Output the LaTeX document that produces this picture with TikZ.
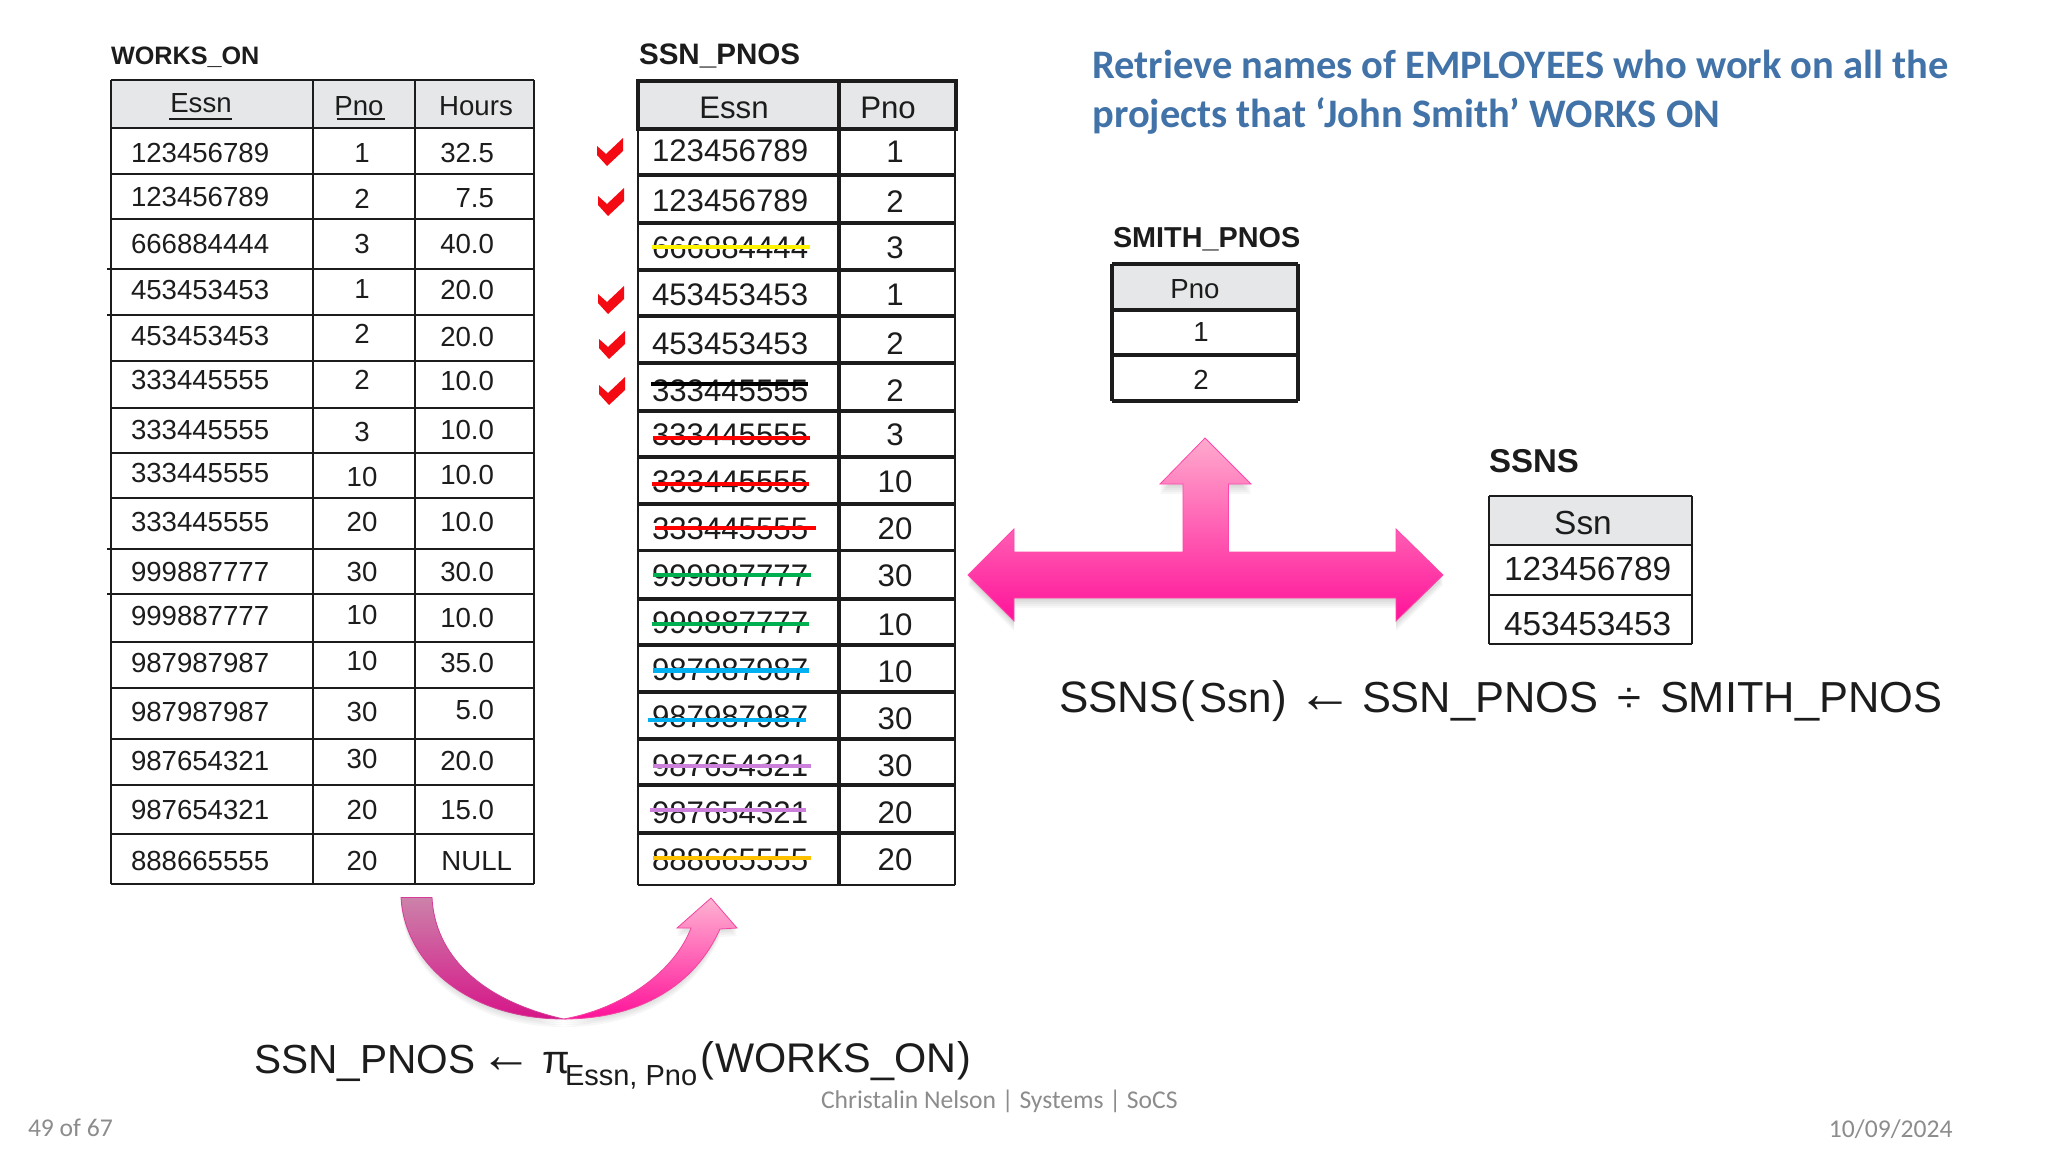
\documentclass[tikz,border=0pt]{standalone}
\usepackage{fontspec}
\setmainfont{Liberation Sans}
\newfontfamily\carlito{Carlito}
\newcommand\pxf[1]{\fontsize{#1}{#1}\selectfont}
\definecolor{ink}{HTML}{1C1C1C}
\definecolor{headgray}{HTML}{E6E7E8}
\definecolor{titleblue}{HTML}{4172A8}
\definecolor{footgray}{HTML}{8C8C8C}
\definecolor{chkred}{HTML}{F40A12}
\definecolor{cgreen}{HTML}{00B050}
\definecolor{cblue}{HTML}{00B0F0}
\definecolor{cpurple}{HTML}{CC7FDB}
\definecolor{corange}{HTML}{FFC000}
\definecolor{tarrowtop}{HTML}{FFAACD}
\definecolor{tarrowbot}{HTML}{FF1299}
\definecolor{tarrowline}{HTML}{FF46AA}
\definecolor{cltop}{HTML}{CC82AA}
\definecolor{clbot}{HTML}{D61488}
\definecolor{crtop}{HTML}{FFB2D2}
\definecolor{clline}{HTML}{D63C96}
\definecolor{crline}{HTML}{F046A0}
\newcommand\tarrowpath{(968,575) -- (1014,529) -- (1014,552) -- (1183,552) -- (1183,484) -- (1160,484) -- (1205,438) -- (1251,484) -- (1228.5,484) -- (1228.5,552) -- (1396,552) -- (1396,529) -- (1443,575) -- (1396,621) -- (1396,598) -- (1014,598) -- (1014,621) -- cycle}
\newcommand\curveleft{(401,897.5) .. controls (405,965) and (470,1019) .. (563.6,1019) .. controls (480,1000) and (435,955) .. (432,897.5) -- cycle}
\newcommand\curveright{(563.6,1019) .. controls (640,1019) and (695,985) .. (720,929) -- (737,928) -- (711,898) -- (677,928) -- (691,928) .. controls (675,970) and (625,1008) .. (563.6,1019) -- cycle}
\tikzset{
  txt/.style={inner sep=0pt,outer sep=0pt,text=ink},
  wcell/.style={txt,font=\pxf{13.8}},
  scell/.style={txt,font=\pxf{15.6}},
  lbl/.style={txt,anchor=base west,font=\bfseries\pxf{#1}},
  eq/.style={txt,anchor=base west,font=\pxf{#1}},
  arrowglyph/.style={txt,anchor=base,font=\pxf{#1}},
  foot/.style={inner sep=0pt,outer sep=0pt,text=footgray,font=\carlito\pxf{12.8}},
  thin rule/.style={draw=ink,line width=1pt},
  thick rule/.style={draw=ink,line width=1.6pt},
}
\begin{document}
\begin{tikzpicture}[x=0.5pt,y=-0.5pt]
\fill[white] (0,0) rectangle (2048,1152);
\useasboundingbox (0,0) rectangle (2048,1152);

% ---- WORKS_ON
\node[lbl=12.6] (worksLabel) at (111,64) {WORKS\_ON};
\fill[headgray] (111,80) rectangle (534,128);
\foreach \y in {80,128,174,219,269,315,361,408,453,498,548.5,594,642,688,739,785,834,884}
  \draw[thin rule] (111,\y) -- (534,\y);
\foreach \y in {269,315,548.5,594} \draw[thin rule] (107,\y) -- (111,\y);
\foreach \x in {111,313,415,534} \draw[thin rule] (\x,80) -- (\x,884);
\node[wcell,anchor=center] (wh1) at (201,103) {Essn};
\node[wcell,anchor=center] (wh2) at (359,106) {Pno};
\node[wcell,anchor=center] (wh3) at (476,106) {Hours};
\draw[thin rule] (169,119) -- (232,119);
\draw[thin rule] (337,119) -- (384.5,119);
\foreach \i/\e/\ey/\p/\py/\h/\hy/\hx in {
 1/123456789/117/1/117/32.5/117/494,
 2/123456789/151/2/152/7.5/152/494,
 3/666884444/187/3/187/40.0/187/494,
 4/453453453/222/1/221/20.0/222/494,
 5/453453453/257/2/256/20.0/258/494,
 6/333445555/291/2/291/10.0/292/494,
 7/333445555/329/3/331/10.0/329/494,
 8/333445555/362/10/365/10.0/364/494,
 9/333445555/400/20/400/10.0/400/494,
 10/999887777/438/30/438/30.0/438/494,
 11/999887777/472/10/471/10.0/473/494,
 12/987987987/508/10/506/35.0/508/494,
 13/987987987/545/30/545/5.0/544/494,
 14/987654321/583/30/581/20.0/583/494,
 15/987654321/620/20/620/15.0/620/494,
 16/888665555/659/20/659/NULL/659/512}{
  \node[wcell,anchor=west] (we\i) at (131,{\ey*1.306}) {\e};
  \node[wcell,anchor=center] (wp\i) at (362,{\py*1.306}) {\p};
  \node[wcell,anchor=east] (wv\i) at (\hx,{\hy*1.306}) {\h};
}

% ---- SSN_PNOS
\node[lbl=14.8] (ssnLabel) at (639,64) {SSN\_PNOS};
\fill[headgray] (638,81) rectangle (955,129);
\foreach \y in {175,223,270,316,363,411,457,504,550.6,599,645,692,739,785,833}
  \draw[thick rule] (638,\y) -- (955,\y);
\draw[thin rule] (638,885) -- (955,885);
\draw[thin rule] (638,81) -- (638,885);
\draw[thin rule] (955,129) -- (955,885);
\draw[draw=ink,line width=2pt] (839,81) -- (839,885);
\draw[draw=ink,line width=2pt] (638,81) rectangle (956,129);
\node[scell,anchor=center] (sh1) at (734,108) {Essn};
\node[scell,anchor=center] (sh2) at (888,108) {Pno};
\foreach \i/\e/\ey/\p/\py in {
 1/123456789/115.5/1/116,
 2/123456789/153.5/2/154,
 3/666884444/190/3/190,
 4/453453453/226/1/226,
 5/453453453/263/2/263,
 6/333445555/299/2/299,
 7/333445555/333/3/333,
 8/333445555/369/10/369,
 9/333445555/405/20/405,
 10/999887777/441/30/441,
 11/999887777/477/10/478,
 12/987987987/513/10/514,
 13/987987987/549/30/550,
 14/987654321/586/30/586,
 15/987654321/622/20/622,
 16/888665555/658/20/658}{
  \node[scell,anchor=west] (se\i) at (652,{\ey*1.306}) {\e};
  \node[scell,anchor=center] (sp\i) at (895,{\py*1.306}) {\p};
}
% strike-throughs
\foreach \c/\y/\a/\b in {
 yellow/247/652/810,
 black/384/651/808,
 red/438/653/810,
 red/484/652/809,
 red/528/655/816,
 cgreen/575/653/811,
 cgreen/624/652/809,
 cblue/670.5/653/809,
 cblue/720/648/806,
 cpurple/766/653/811,
 cpurple/810/650/806,
 corange/858/653/811}{
  \draw[line width=2.4pt,draw=\c] (\a,\y) -- (\b,\y);
}
% check marks
\foreach \x/\y in {597/138,598/188,598/286,599/331,599/377}{
  \fill[chkred] (\x,\y+8) -- (\x+9,\y+16) -- (\x+26,\y) -- (\x+26,\y+13) -- (\x+10,\y+28) -- (\x,\y+17) -- cycle;
}

% ---- title
\node[inner sep=0pt,anchor=base west,text=titleblue,font=\carlito\bfseries\pxf{20.25}] (title1) at (1092,78.5) {Retrieve names of EMPLOYEES who work on all the};
\node[inner sep=0pt,anchor=base west,text=titleblue,font=\carlito\bfseries\pxf{20.25}] (title2) at (1092,127.5) {projects that ‘John Smith’ WORKS ON};

% ---- SMITH_PNOS
\node[lbl=14.4] (smithLabel) at (1113,247.5) {SMITH\_PNOS};
\fill[headgray] (1112,264) rectangle (1298,310);
\foreach \y in {264,310,355,401} \draw[thick rule] (1112,\y) -- (1298,\y);
\foreach \x in {1112,1298} \draw[thick rule] (\x,264) -- (\x,401);
\node[wcell,anchor=center] (mh) at (1195,289) {Pno};
\node[wcell,anchor=center] (m1) at (1201,332) {1};
\node[wcell,anchor=center] (m2) at (1201,380) {2};

% ---- T arrow
\foreach \d in {10,8,6,4,2} \fill[black,opacity=0.03,shift={(0,\d)}] \tarrowpath;
\shade[top color=tarrowtop,bottom color=tarrowbot] \tarrowpath;
\draw[draw=tarrowline,line width=0.4pt] \tarrowpath;

% ---- SSNS
\node[lbl=16.5] (ssnsLabel) at (1489,472.5) {SSNS};
\fill[headgray] (1489,496) rectangle (1692,545);
\foreach \y in {496,545,595,643.5} \draw[thin rule] (1489,\y) -- (1692,\y);
\foreach \x in {1489,1692} \draw[thin rule] (\x,496) -- (\x,643.5);
\node[txt,font=\pxf{16.7},anchor=center] (nh) at (1583,522.5) {Ssn};
\node[txt,font=\pxf{16.7},anchor=west] (n1) at (1504,568.5) {123456789};
\node[txt,font=\pxf{16.7},anchor=west] (n2) at (1504,624) {453453453};

% ---- division equation
\node[eq=22] (d1) at (1059,712.5) {SSNS};
\node[eq=22] (d2) at (1180,712.5) {(};
\node[eq=21] (d3) at (1199,712.5) {Ssn};
\node[eq=22] (d4) at (1272,712.5) {)};
\node[arrowglyph=28] (d5) at (1325.6,712) {←};
\node[eq=21.7] (d6) at (1362,712.5) {SSN\_PNOS};
\node[eq=21.7] (d7) at (1617,712.5) {÷};
\node[eq=21.7] (d8) at (1660,712.5) {SMITH\_PNOS};

% ---- curved arrow
\foreach \d in {8,6,4,2} {
  \fill[black,opacity=0.03,shift={(0,\d)}] \curveleft;
  \fill[black,opacity=0.03,shift={(0,\d)}] \curveright;
}
\shade[top color=cltop,bottom color=clbot] \curveleft;
\shade[top color=crtop,bottom color=tarrowbot] \curveright;
\draw[draw=clline,line width=0.4pt] \curveleft;
\draw[draw=crline,line width=0.4pt] \curveright;

% ---- projection equation
\node[eq=20.3] (p1) at (254,1073.5) {SSN\_PNOS};
\node[arrowglyph=26] (p2) at (506,1072) {←};
\node[eq=20] (p3) at (542,1073) {π};
\node[eq=14.5] (p4) at (565,1085) {Essn, Pno};
\node[eq=20.7] (p5) at (700,1071) {(};
\node[eq=20.7] (p6) at (715,1072) {WORKS\_ON};
\node[eq=20.7] (p7) at (957,1071) {)};

% ---- footer
\node[foot,anchor=base west] (fc) at (821,1108) {Christalin Nelson | Systems | SoCS};
\node[foot,anchor=base west] (fp) at (28,1136.7) {49 of 67};
\node[foot,anchor=base east] (fd) at (1952.5,1137) {10/09/2024};
\end{tikzpicture}
\end{document}
